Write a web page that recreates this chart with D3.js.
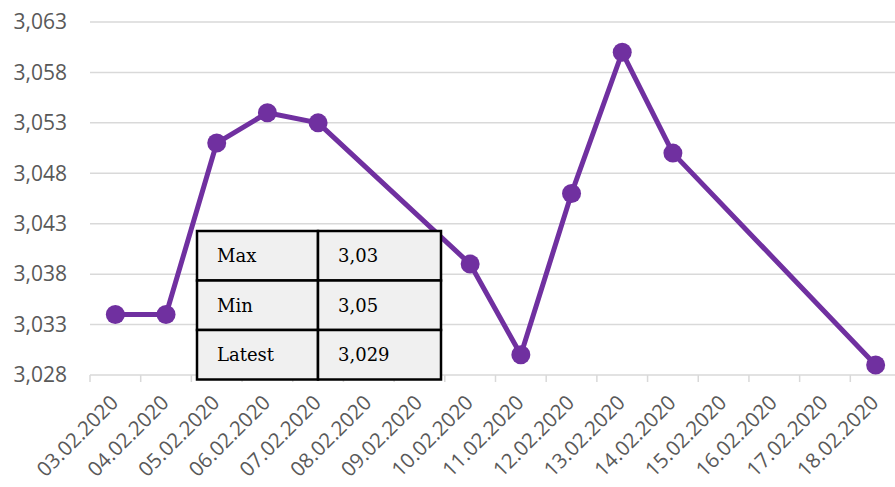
<!DOCTYPE html>
<html>
<head>
<meta charset="utf-8">
<script src="https://cdn.jsdelivr.net/npm/d3@7"></script>
<style>
  body { margin: 0; background: #fff; }
  #chart { width: 895px; height: 487px; overflow: hidden; }
</style>
</head>
<body>
<div id="chart"></div>
<script>
// data
const dates = ["03.02.2020", "04.02.2020", "05.02.2020", "06.02.2020", "07.02.2020", "08.02.2020",
  "09.02.2020", "10.02.2020", "11.02.2020", "12.02.2020", "13.02.2020", "14.02.2020",
  "15.02.2020", "16.02.2020", "17.02.2020", "18.02.2020"]
const values = [3.034, 3.034, 3.051, 3.054, 3.053, null,
  null, 3.039, 3.030, 3.046, 3.060, 3.050,
  null, null, null, 3.029]
const yTicks = [3.028, 3.033, 3.038, 3.043, 3.048, 3.053, 3.058, 3.063]
const tableLabels = ["Max", "Min", "Latest"]
const tableValues = ["3,03", "3,05", "3,029"]

const width = 895, height = 487
const margin = { left: 90, top: 22, bottom: 112 }
const plotRight = 901
const lineColor = "#7030a0"

const locale = d3.formatLocale({ decimal: ",", thousands: ".", grouping: [3], currency: ["", ""] })
const fmt = locale.format(".3f")

const svg = d3.select("#chart").append("svg")
    .attr("width", width)
    .attr("height", height)

const x = d3.scaleBand()
    .domain(dates)
    .range([margin.left, plotRight])

const y = d3.scaleLinear()
    .domain([yTicks[0], yTicks[yTicks.length - 1]])
    .range([height - margin.bottom, margin.top])

// gridlines
svg.append("g")
  .selectAll("line")
  .data(yTicks.slice(1))
  .enter().append("line")
    .attr("x1", margin.left)
    .attr("x2", plotRight)
    .attr("y1", d => y(d))
    .attr("y2", d => y(d))
    .attr("stroke", "#d9d9d9")
    .attr("stroke-width", 1.5)

// y labels
svg.append("g")
  .selectAll("text")
  .data(yTicks)
  .enter().append("text")
    .attr("x", 67)
    .attr("y", d => y(d))
    .attr("dy", "0.35em")
    .attr("text-anchor", "end")
    .attr("font-family", "'Open Sans', sans-serif")
    .attr("font-size", 21)
    .attr("fill", "#595959")
    .text(d => fmt(d))

// x axis
const xAxis = svg.append("g")
    .attr("transform", "translate(0," + y(yTicks[0]) + ")")
xAxis.append("line")
    .attr("x1", margin.left).attr("x2", plotRight)
    .attr("stroke", "#d9d9d9").attr("stroke-width", 1.5)
xAxis.selectAll("line.tick")
  .data(dates)
  .enter().append("line")
    .attr("class", "tick")
    .attr("x1", d => x(d)).attr("x2", d => x(d))
    .attr("y1", 0).attr("y2", 7)
    .attr("stroke", "#d9d9d9").attr("stroke-width", 1.5)
xAxis.selectAll("text")
  .data(dates)
  .enter().append("text")
    .attr("text-anchor", "end")
    .attr("font-family", "'Open Sans', sans-serif")
    .attr("font-size", 20.5)
    .attr("fill", "#595959")
    .attr("transform", d => "translate(" + (x(d) + x.bandwidth() / 2 - 1) + ",24) rotate(-45)")
    .attr("dy", "0.35em")
    .text(d => d)

// line, gaps are bridged like Excel does
const points = dates.map((d, i) => ({ date: d, value: values[i] })).filter(p => p.value != null)

const line = d3.line()
    .x(d => x(d.date) + x.bandwidth() / 2)
    .y(d => y(d.value))

svg.append("path")
    .datum(points)
    .attr("fill", "none")
    .attr("stroke", lineColor)
    .attr("stroke-width", 5)
    .attr("stroke-linejoin", "round")
    .attr("d", line)

svg.append("g")
  .selectAll("circle")
  .data(points)
  .enter().append("circle")
    .attr("cx", d => x(d.date) + x.bandwidth() / 2)
    .attr("cy", d => y(d.value))
    .attr("r", 9.5)
    .attr("fill", lineColor)

// summary table on top
const table = svg.append("g").attr("transform", "translate(197,231)")
const rowH = 49.5, col1 = 121, col2 = 123
tableLabels.forEach(function (label, i) {
  table.append("rect")
    .attr("x", 0).attr("y", i * rowH)
    .attr("width", col1).attr("height", rowH)
    .attr("fill", "#f0f0f0").attr("stroke", "#000").attr("stroke-width", 2.5)
  table.append("rect")
    .attr("x", col1).attr("y", i * rowH)
    .attr("width", col2).attr("height", rowH)
    .attr("fill", "#f0f0f0").attr("stroke", "#000").attr("stroke-width", 2.5)
  table.append("text")
    .attr("x", 20).attr("y", i * rowH + rowH / 2)
    .attr("dy", "0.35em")
    .attr("font-family", "'DejaVu Serif', serif")
    .attr("font-size", 18)
    .attr("fill", "#000")
    .text(label)
  table.append("text")
    .attr("x", col1 + 20).attr("y", i * rowH + rowH / 2)
    .attr("dy", "0.35em")
    .attr("font-family", "'DejaVu Serif', serif")
    .attr("font-size", 18)
    .attr("fill", "#000")
    .text(tableValues[i])
})
</script>
</body>
</html>
